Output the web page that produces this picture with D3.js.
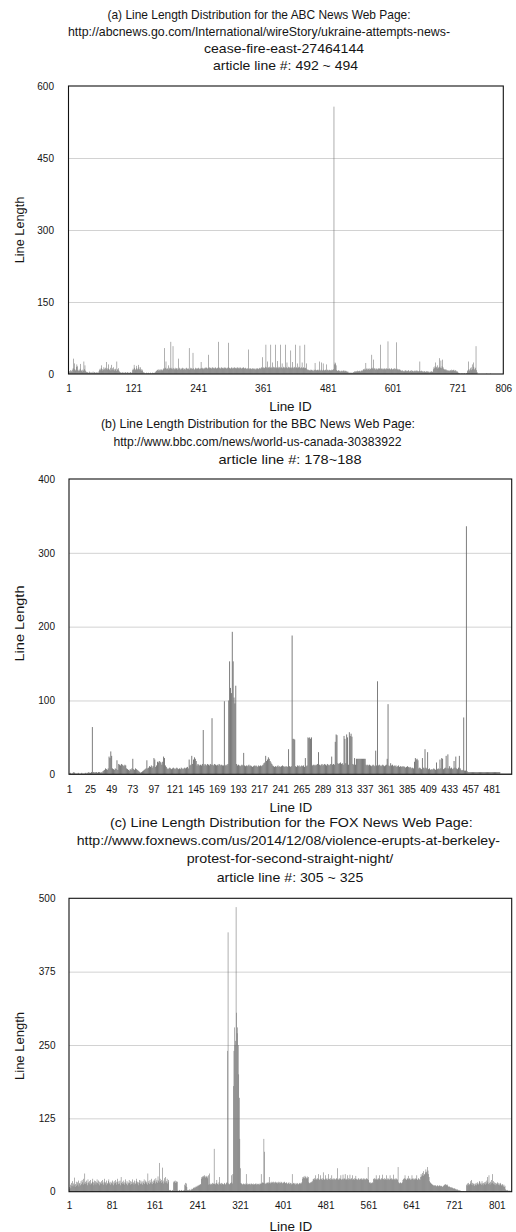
<!DOCTYPE html>
<html><head><meta charset="utf-8">
<script src="https://cdn.jsdelivr.net/npm/d3@7"></script>
<style>
body{margin:0;background:#fff}
svg{display:block}
text{font-family:"Liberation Sans",Arial,Helvetica,sans-serif;fill:#151515}
</style>
</head><body>
<svg id="chart" width="516" height="1232"></svg>
<script>
// ---------------- DATA ----------------
const abcValues = [
4,6,3,8,5,7,4,9,12,32,10,22,7,9,15,20,16,8,6,9,
7,11,21,8,6,5,9,7,26,10,18,7,5,4,3,4,2,3,5,3,
2,4,3,2,3,5,2,3,4,2,3,2,4,3,2,3,6,9,11,8,
12,18,10,7,9,14,11,8,13,10,25,12,9,11,20,8,10,13,7,19,
9,12,8,14,10,7,11,9,6,26,10,8,12,7,5,4,3,2,3,2,
4,3,2,3,2,4,3,2,3,4,2,3,2,3,4,3,2,3,8,11,
9,19,13,10,8,17,12,9,11,19,14,10,8,14,10,7,9,6,4,2,
3,2,1,2,3,1,2,3,2,1,2,3,2,1,2,3,2,2,3,2,
3,5,7,6,8,9,7,10,8,6,9,10,8,7,9,10,12,54,11,13,
26,10,12,11,9,18,13,10,12,67,11,13,10,58,12,9,11,13,10,12,
11,9,12,32,10,13,11,9,12,10,11,13,9,12,10,11,9,12,13,10,
11,12,10,54,9,11,13,12,10,11,44,12,10,9,11,13,12,10,11,12,
13,11,10,12,11,25,12,13,11,10,12,11,13,12,14,13,12,11,13,40,
12,14,13,12,11,13,14,12,13,11,12,14,13,12,11,13,12,67,14,12,
13,11,12,14,13,12,11,13,12,14,13,12,11,13,12,14,65,13,12,11,
12,13,14,12,11,13,12,14,13,12,11,13,14,12,13,11,12,14,13,12,
11,13,12,14,13,12,11,13,12,11,10,12,11,51,12,10,11,12,10,11,
12,10,11,12,10,11,9,12,10,11,12,10,11,12,13,11,12,14,13,35,
12,14,13,12,15,61,14,12,26,13,14,12,15,13,61,14,12,24,13,15,
12,14,13,61,12,14,27,13,12,15,14,12,61,13,14,22,12,13,15,14,
12,61,13,14,24,12,13,15,12,14,13,49,12,14,25,13,12,15,14,12,
61,13,14,22,12,13,15,14,59,12,13,14,24,12,13,14,12,61,13,12,
22,10,9,8,9,7,8,9,7,8,9,7,8,6,9,8,23,9,7,8,
9,8,7,9,26,8,7,9,24,8,7,22,9,8,7,9,8,20,7,9,
8,7,9,8,7,8,9,7,8,9,10,557,20,24,22,18,8,7,6,7,
8,6,7,5,6,7,5,6,8,6,7,5,6,7,5,6,4,5,3,2,
3,2,3,2,3,2,3,4,3,5,6,5,4,6,5,7,6,5,6,7,
5,6,7,8,6,9,10,8,11,9,23,10,12,9,11,10,12,9,11,10,
12,40,11,13,30,10,12,11,9,12,10,11,9,12,10,11,12,61,10,11,
12,10,9,11,12,10,11,9,12,10,11,68,10,12,11,9,10,12,11,10,
9,11,10,12,9,11,10,66,11,9,10,8,9,10,8,7,6,8,7,5,
6,7,5,8,6,7,5,6,7,8,6,5,7,6,8,5,6,7,5,6,
7,5,6,8,6,5,7,6,5,7,26,6,5,7,6,5,6,4,5,6,
4,5,6,4,5,6,4,5,3,4,5,4,6,5,4,10,14,12,16,24,
13,15,11,18,14,12,33,15,13,28,12,16,30,14,11,10,9,8,10,9,
7,8,6,7,8,6,7,8,6,9,8,7,8,9,7,6,8,7,5,6,
4,3,2,1,2,1,0,1,2,1,0,1,2,1,0,1,2,1,6,8,
26,10,7,9,12,14,8,20,10,24,15,9,11,13,58,8,4,0,0,0,
0,0,0,0,0,0,0,0,0,0,0,0,0,0,1,0,0,0,0,0,
0,1,0,0,0,0,0,0,0,0,0,0,0,0,0,0,0,0,0,0,
0,0,0,0,0,0
];

const bbcValues = [
1,2,1,1,2,3,2,1,1,1,2,1,1,1,2,1,1,1,2,1,
2,2,3,2,2,3,64,3,3,2,3,3,2,3,3,2,3,2,4,5,
6,8,7,6,8,24,22,31,25,8,7,6,8,7,19,6,14,13,12,14,
13,12,11,13,12,8,7,6,5,7,6,8,21,7,6,8,7,6,5,4,
3,2,3,4,5,6,7,8,19,8,9,11,10,12,9,11,22,20,10,12,
17,16,18,17,16,13,17,24,22,12,10,8,7,8,9,8,7,8,9,8,
7,8,9,8,7,8,7,9,8,7,8,9,8,9,10,8,20,12,13,25,
14,20,23,21,18,12,14,13,12,13,12,14,60,12,14,13,12,14,13,12,
14,13,76,13,12,14,13,12,13,12,14,13,12,13,12,12,99,12,13,12,
14,100,153,117,110,193,153,104,96,120,14,12,13,12,11,12,13,12,29,12,
11,12,11,12,13,11,12,11,10,11,12,11,12,11,10,12,11,12,11,12,
13,15,16,25,18,20,23,21,18,16,14,12,11,10,11,10,11,12,10,11,
10,11,12,11,10,11,10,11,10,34,11,10,11,188,48,48,47,11,10,12,
11,12,10,11,12,11,12,10,22,11,12,50,49,50,48,50,12,13,12,13,
12,13,14,30,13,12,13,14,12,13,14,13,12,14,13,12,13,14,24,13,
14,13,44,54,53,15,14,15,16,14,15,13,52,48,15,54,50,13,57,52,
55,51,14,13,22,13,21,21,21,21,21,21,21,21,21,21,21,13,12,13,
12,13,12,11,12,13,12,11,32,12,126,12,13,12,11,12,13,12,11,12,
13,21,95,12,11,15,12,13,11,12,11,12,10,11,12,10,11,10,11,10,
11,10,9,10,11,10,9,10,9,8,9,8,17,22,20,21,19,8,9,8,
7,22,9,8,34,9,8,30,7,8,6,7,6,7,8,7,6,16,7,8,
7,20,8,22,21,7,8,9,25,8,27,8,11,8,9,7,8,18,9,24,
8,7,9,25,8,6,5,6,77,5,5,336,4,3,3,3,3,3,3,3,
3,3,3,3,3,3,3,3,3,3,3,3,3,3,3,3,3,3,3,3,
3,3,3,3,3,3,3,3,3,3,1,1,1,1,1,1,1,1,1,1,
1,1,1
];

const foxValues = [
5,8,12,6,15,10,18,9,14,11,24,8,13,17,10,16,12,19,9,14,
15,11,18,13,20,16,12,22,14,31,17,13,19,15,11,21,16,14,18,12,
20,15,13,17,22,16,11,19,14,18,12,16,21,15,13,19,17,11,16,14,
18,13,20,15,12,17,22,14,16,11,19,15,13,18,21,14,16,12,17,15,
13,19,16,11,18,14,20,15,12,17,22,16,13,18,14,19,11,25,15,13,
17,14,19,12,16,21,15,13,18,11,16,14,20,15,12,18,13,17,21,14,
16,12,19,15,13,18,22,14,17,11,16,20,15,13,19,14,17,12,18,15,
21,13,16,19,14,17,12,31,15,18,13,20,16,14,22,17,13,19,15,21,
18,14,23,17,20,15,26,19,16,49,22,18,15,20,41,17,14,19,23,16,
25,15,18,22,14,17,20,3,2,3,2,1,2,3,2,16,18,17,19,15,
18,16,17,2,1,2,3,2,1,2,3,2,1,2,2,3,12,15,10,14,
8,3,2,3,2,4,3,2,5,3,4,5,6,7,6,8,7,9,8,10,
9,11,10,12,11,13,12,22,25,26,24,27,25,28,26,24,27,25,26,23,
28,12,31,13,12,14,13,12,15,13,14,73,13,14,12,15,20,13,14,12,
16,25,13,14,12,15,13,14,12,13,15,14,12,13,15,16,240,442,14,12,
13,15,14,28,16,14,30,180,240,280,250,257,485,305,270,280,250,200,160,90,
40,15,14,13,12,13,14,12,13,14,12,30,13,12,14,13,12,13,14,12,
13,14,12,13,14,12,13,12,14,13,12,14,13,12,13,14,12,13,14,30,
14,15,16,15,90,68,14,13,15,14,16,15,14,16,25,15,14,16,15,17,
16,15,17,14,16,15,17,16,15,14,16,15,17,16,14,15,17,16,15,14,
16,15,17,16,15,14,16,15,13,14,15,16,13,14,15,12,14,30,13,15,
14,13,15,12,14,13,15,14,12,13,15,14,13,15,14,16,22,25,24,26,
23,27,25,22,24,26,23,25,16,15,14,16,15,17,16,18,21,22,20,23,
21,28,22,20,23,21,30,22,20,21,28,22,21,23,20,33,22,21,20,28,
22,21,23,20,22,30,21,22,20,23,21,28,22,20,21,23,22,20,21,22,
23,21,40,22,20,21,23,22,28,21,20,22,29,21,23,22,30,21,20,22,
28,21,23,20,22,29,21,22,23,20,28,22,21,20,23,22,27,21,22,20,
21,23,22,20,21,22,23,21,20,22,21,23,22,20,21,22,23,21,22,42,
20,16,15,14,16,15,14,16,15,22,21,23,20,22,28,21,22,20,23,21,
28,22,21,20,23,22,29,21,22,20,23,21,22,28,20,21,23,22,20,21,
28,22,21,23,20,22,29,21,22,20,21,23,22,20,21,42,16,15,14,16,
15,14,15,16,20,22,21,23,28,22,21,20,23,22,27,21,22,23,20,22,
21,28,22,23,21,20,22,23,21,22,28,20,21,23,22,21,20,25,30,26,
28,32,27,35,30,29,33,38,34,31,42,36,30,25,18,16,15,14,13,12,
12,11,10,11,10,11,10,9,10,11,10,9,10,11,10,9,10,9,8,9,
10,11,12,11,13,12,11,12,10,9,8,9,8,7,8,7,6,7,6,5,
6,5,4,5,4,3,4,3,2,3,2,1,2,1,1,1,0,1,1,0,
1,0,1,12,10,14,12,15,11,13,14,18,20,12,15,11,14,13,10,14,
12,15,11,13,16,12,14,18,17,13,15,12,18,14,11,15,13,16,12,17,
14,19,25,16,13,28,15,12,17,14,20,15,30,18,13,16,12,15,11,14,
13,16,15,12,14,11,13,15,12,10,13,11,9,12,8,10,4,3,2,3,
2,2,1,2,1,1,2,1
];

const abcTicksX = [1,121,241,361,481,601,721,806];
const bbcTicksX = [1,25,49,73,97,121,145,169,193,217,241,265,289,313,337,361,385,409,433,457,481];
const foxTicksX = [1,81,161,241,321,401,481,561,641,721,801];
const abcTicksY = [0,150,300,450,600];
const bbcTicksY = [0,100,200,300,400];
const foxTicksY = [0,125,250,375,500];

const abcTitle = ["(a) Line Length Distribution for the ABC News Web Page:",
  "http://abcnews.go.com/International/wireStory/ukraine-attempts-news-",
  "cease-fire-east-27464144",
  "article line #: 492 ~ 494"];
const bbcTitle = ["(b) Line Length Distribution for the BBC News Web Page:",
  "http://www.bbc.com/news/world-us-canada-30383922",
  "article line #: 178~188"];
const foxTitle = ["(c) Line Length Distribution for the FOX News Web Page:",
  "http://www.foxnews.com/us/2014/12/08/violence-erupts-at-berkeley-",
  "protest-for-second-straight-night/",
  "article line #: 305 ~ 325"];
const xLabel = "Line ID";
const yLabel = "Line Length";

// ---------------- LAYOUT ----------------
const panels = [
  {values: abcValues, ticksX: abcTicksX, ticksY: abcTicksY, title: abcTitle,
   xDom: [1, 806], xR: [68.5, 503.3], yR: [374, 86],
   titleLayout: [[259,19,303],[259,36,382],[284,53,160],[285.5,70,145]],
   xPad: 10.6, yPad: 14.5, xLab: [290.5, 410.7], yLab: [24, 230, 66.6]},
  {values: bbcValues, ticksX: bbcTicksX, ticksY: bbcTicksY, title: bbcTitle,
   xDom: [1, 504], xR: [69, 511.7], yR: [774.3, 479],
   titleLayout: [[258,428,314],[257.5,446,288],[290,464,143]],
   xPad: 11.4, yPad: 14, xLab: [290.8, 811.5], yLab: [24, 623.5, 76]},
  {values: foxValues, ticksX: foxTicksX, ticksY: foxTicksY, title: foxTitle,
   xDom: [1, 829], xR: [69, 511.7], yR: [1191.7, 898.3],
   titleLayout: [[291.3,827,362.7],[288.3,845,423.3],[290,863,206.7],[290,881.5,146.7]],
   xPad: 10.7, yPad: 13.5, xLab: [290.8, 1230.5], yLab: [24, 1046, 68]}
];

const svg = d3.select("#chart");

panels.forEach(p => {
  const x = d3.scaleLinear().domain(p.xDom).range(p.xR);
  const yMax = p.ticksY[p.ticksY.length - 1];
  const y = d3.scaleLinear().domain([0, yMax]).range(p.yR);
  const g = svg.append("g");
  const step = x(2) - x(1);

  // gridlines
  g.append("g")
    .attr("transform", `translate(${p.xR[0]},0)`)
    .call(d3.axisLeft(y).tickValues(p.ticksY.filter(t => t > 0 && t < yMax))
      .tickSize(-(p.xR[1] - p.xR[0])).tickFormat(""))
    .call(a => a.select(".domain").remove())
    .call(a => a.selectAll("line").attr("stroke", "#d2d2d2").attr("stroke-width", 1));

  // bars
  g.append("g").selectAll("rect")
    .data(p.values)
    .join("rect")
    .attr("x", (d, i) => x(i + 1))
    .attr("width", step)
    .attr("y", d => y(d))
    .attr("height", d => y(0) - y(d))
    .attr("fill", "#6c6c6c");

  // frame
  g.append("rect")
    .attr("x", p.xR[0]).attr("y", p.yR[1])
    .attr("width", p.xR[1] - p.xR[0]).attr("height", p.yR[0] - p.yR[1])
    .attr("fill", "none").attr("stroke", "#111").attr("stroke-width", 1.1);

  // axes
  g.append("g")
    .attr("transform", `translate(0,${p.yR[0]})`)
    .call(d3.axisBottom(x).tickValues(p.ticksX).tickSize(0).tickPadding(p.xPad).tickFormat(d3.format("d")))
    .call(a => a.select(".domain").remove())
    .call(a => a.selectAll("text").attr("font-size", 10).attr("fill", "#151515")
      .style("font-family", '"Liberation Sans",Arial,sans-serif'));

  g.append("g")
    .attr("transform", `translate(${p.xR[0]},0)`)
    .call(d3.axisLeft(y).tickValues(p.ticksY).tickSize(0).tickPadding(p.yPad))
    .call(a => a.select(".domain").remove())
    .call(a => a.selectAll("text").attr("font-size", 10).attr("fill", "#151515")
      .style("font-family", '"Liberation Sans",Arial,sans-serif'));

  // titles
  g.selectAll("text.title")
    .data(p.title)
    .join("text")
    .attr("class", "title")
    .attr("x", (d, i) => p.titleLayout[i][0])
    .attr("y", (d, i) => p.titleLayout[i][1])
    .attr("text-anchor", "middle")
    .attr("font-size", 13)
    .attr("textLength", (d, i) => p.titleLayout[i][2])
    .attr("lengthAdjust", "spacingAndGlyphs")
    .text(d => d);

  // axis titles
  g.append("text")
    .attr("x", p.xLab[0]).attr("y", p.xLab[1])
    .attr("text-anchor", "middle").attr("font-size", 13)
    .attr("textLength", 42.7).attr("lengthAdjust", "spacingAndGlyphs")
    .text(xLabel);

  g.append("text")
    .attr("transform", `translate(${p.yLab[0]},${p.yLab[1]}) rotate(-90)`)
    .attr("text-anchor", "middle").attr("font-size", 13)
    .attr("textLength", p.yLab[2]).attr("lengthAdjust", "spacingAndGlyphs")
    .text(yLabel);
});
</script>
</body></html>
